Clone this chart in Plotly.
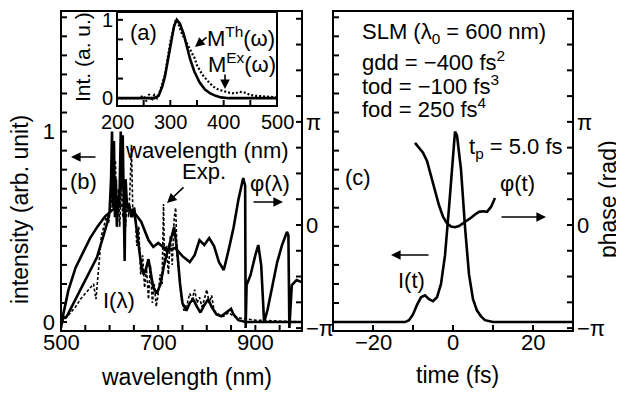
import math
import plotly.graph_objects as go

# The page has the browser's default 8px body margin, so the figure is drawn 8px in.
OFF = 8
W, H = 624 - OFF, 393 - OFF
FONT = "Liberation Sans, Arial, Helvetica, sans-serif"
PI = math.pi

# ---------------- panel (b): spectra and spectral phase ----------------
lam_th = [500, 505, 512, 520, 533, 545, 553, 565, 574, 587, 595, 600, 603, 605, 607, 609,
          611, 613, 615, 618, 620, 623, 625, 627, 629, 631, 633, 636, 640, 645, 650, 655,
          660, 665, 670, 675, 680, 685, 690, 697, 705, 712, 720, 727, 733, 740, 745, 750,
          758, 765, 772, 780, 787, 795, 803, 810, 820, 830, 840, 850, 855, 865, 880, 1000]
int_th = [0.0, 0.02, 0.03, 0.07, 0.13, 0.19, 0.23, 0.29, 0.34, 0.45, 0.52, 0.58, 0.75, 1.0, 0.6, 0.95,
          0.55, 0.75, 0.5, 0.65, 0.6, 1.0, 0.7, 0.98, 0.45, 0.32, 0.75, 0.6, 0.62, 0.55, 0.6, 0.5,
          0.4, 0.3, 0.25, 0.28, 0.33, 0.25, 0.18, 0.15, 0.2, 0.3, 0.38, 0.45, 0.5, 0.35, 0.2, 0.1,
          0.06, 0.1, 0.12, 0.08, 0.05, 0.09, 0.12, 0.08, 0.04, 0.03, 0.05, 0.07, 0.04, 0.01, 0.0, 0.0]

lam_ex = [500, 510, 520, 530, 540, 550, 560, 567, 572, 578, 583, 588, 593, 598, 603, 606,
          609, 612, 615, 618, 621, 624, 627, 630, 633, 636, 639, 642, 645, 648, 652, 656,
          660, 664, 668, 672, 676, 680, 684, 688, 692, 696, 700, 704, 708, 711, 713, 717,
          721, 725, 729, 733, 736, 739, 743, 748, 753, 760, 765, 770, 775, 780, 785, 790,
          795, 800, 805, 810, 815, 825, 835, 845, 855, 870, 900, 1000]
int_ex = [0.0, 0.02, 0.05, 0.08, 0.12, 0.15, 0.18, 0.2, 0.12, 0.3, 0.45, 0.5, 0.55, 0.52, 0.62, 0.8,
          0.6, 0.85, 0.55, 0.7, 0.5, 0.75, 0.55, 0.7, 0.5, 0.65, 0.55, 0.7, 0.93, 0.55, 0.6, 0.4,
          0.5, 0.25, 0.35, 0.18, 0.28, 0.12, 0.3, 0.1, 0.2, 0.08, 0.15, 0.25, 0.2, 0.62, 0.3, 0.4,
          0.25, 0.45, 0.3, 0.55, 0.6, 0.35, 0.25, 0.12, 0.06, 0.1, 0.15, 0.12, 0.17, 0.1, 0.13, 0.08,
          0.12, 0.17, 0.1, 0.14, 0.06, 0.04, 0.03, 0.05, 0.03, 0.02, 0.01, 0.0]

lam_ph = [500, 505, 515, 530, 545, 560, 575, 590, 605, 620, 635, 650, 665, 680, 690, 700,
          710, 720, 735, 750, 765, 775, 785, 795, 805, 815, 825, 835, 845, 855, 865, 875,
          879, 880, 882, 890, 900, 906, 912, 918, 925, 935, 945, 955, 965, 968, 970, 975,
          985, 995, 1000]
phase_lam = [-3.14, -2.7, -2.0, -1.3, -0.85, -0.4, -0.05, 0.25, 0.45, 0.6, 0.55, 0.4, 0.1, -0.46, -0.67, -0.55,
             -0.67, -0.76, -0.7, -0.95, -1.13, -0.92, -0.46, -0.61, -0.4, -0.64, -1.13, -1.37, -0.76, -0.09, 0.76, 1.43,
             1.2, -3.14, -1.83, -1.53, -0.92, -0.61, -1.22, -2.96, -2.59, -1.83, -1.13, -0.61, -0.21, -0.31, -3.14, -1.83,
             -1.68, -1.74, -1.68]

# ---------------- panel (c): temporal intensity and phase ----------------
t_int = [-30, -12, -11, -10, -9, -8, -7, -6, -5, -4, -3, -2, -1, 0, 0.5, 1, 2, 3, 4, 5, 6, 7, 8, 10, 30]
int_t = [0.0, 0.0, 0.01, 0.04, 0.09, 0.13, 0.14, 0.12, 0.11, 0.13, 0.2, 0.35, 0.6, 0.88, 1.0, 0.98,
         0.8, 0.5, 0.25, 0.12, 0.06, 0.03, 0.01, 0.0, 0.0]

t_ph = [-9.5, -8.5, -7.5, -6.5, -5.5, -4.5, -3.5, -2.5, -1.5, -0.5, 0.5, 1.5, 2.5, 3.5, 4.5, 5.5,
        6.5, 7.5, 8.5, 9.5, 10.5]
phase_t = [2.5, 2.35, 2.2, 1.95, 1.5, 1.05, 0.6, 0.25, 0.05, -0.05, -0.07, -0.03, 0.05, 0.12, 0.22, 0.32,
           0.4, 0.42, 0.4, 0.55, 0.82]

# ---------------- inset (a): SHG spectra ----------------
lam_mth = [200, 270, 278, 285, 290, 296, 302, 307, 312, 318, 325, 331, 337, 345, 355, 365, 375, 385, 395, 410, 500]
m_th = [0.0, 0.0, 0.03, 0.15, 0.28, 0.5, 0.75, 0.92, 1.0, 0.95, 0.82, 0.66, 0.5, 0.34, 0.2, 0.11, 0.06, 0.03, 0.01, 0.0, 0.0]

lam_mex = [200, 240, 250, 255, 260, 265, 270, 275, 280, 290, 300, 305, 310, 315, 320, 325, 330, 335, 340,
           345, 350, 360, 370, 380, 390, 400, 410, 420, 430, 440, 450, 460, 480, 500]
m_ex = [0.0, 0.0, 0.03, -0.04, 0.05, -0.03, 0.04, 0.0, 0.08, 0.3, 0.72, 0.88, 1.0, 0.95, 0.85, 0.78, 0.72, 0.65, 0.58,
        0.52, 0.42, 0.3, 0.22, 0.15, 0.11, 0.09, 0.07, 0.06, 0.08, 0.07, 0.04, 0.03, 0.02, 0.01]

# tick definitions
b_xticks = [500, 550, 600, 650, 700, 750, 800, 850, 900, 950, 1000]
b_xlabels = ["500", "", "", "", "700", "", "", "", "900", "", ""]
int_ticks = [round(0.1 * k, 1) for k in range(0, 17)]
int_labels = ["0"] + [" "] * 9 + ["1"] + [" "] * 6
ph_ticks = [k * PI / 4 for k in range(-4, 9)]
ph_labels = ["−π", " ", " ", " ", "0", " ", " ", " ", "π", " ", " ", " ", " "]
c_xticks = [-30, -20, -10, 0, 10, 20, 30]
c_xlabels = ["", "−20", "", "0", "", "20", ""]
in_xticks = [200, 250, 300, 350, 400, 450, 500]
in_xlabels = ["200", "", "300", "", "400", "", "500"]
in_yticks = [0, 0.25, 0.5, 0.75, 1.0]
in_ylabels = ["0", " ", " ", " ", "1"]


def dom_x(a, b):
    return [(a - OFF) / W, (b - OFF) / W]


def dom_y(top, bottom):
    return [1 - (bottom - OFF) / H, 1 - (top - OFF) / H]


LW = 2.6
fig = go.Figure()
fig.add_trace(go.Scatter(x=lam_th, y=int_th, mode="lines", line=dict(color="black", width=LW),
                         xaxis="x", yaxis="y"))
fig.add_trace(go.Scatter(x=lam_ex, y=int_ex, mode="lines",
                         line=dict(color="black", width=1.6, dash="3px,2px"), xaxis="x", yaxis="y"))
fig.add_trace(go.Scatter(x=lam_ph, y=phase_lam, mode="lines", line=dict(color="black", width=LW),
                         xaxis="x", yaxis="y2"))
fig.add_trace(go.Scatter(x=t_int, y=int_t, mode="lines", line=dict(color="black", width=LW),
                         xaxis="x2", yaxis="y3"))
fig.add_trace(go.Scatter(x=t_ph, y=phase_t, mode="lines", line=dict(color="black", width=LW),
                         xaxis="x2", yaxis="y4"))
fig.add_trace(go.Scatter(x=lam_mth, y=m_th, mode="lines", line=dict(color="black", width=LW),
                         xaxis="x3", yaxis="y5"))
fig.add_trace(go.Scatter(x=lam_mex, y=m_ex, mode="lines",
                         line=dict(color="black", width=2.2, dash="2px,2px"), xaxis="x3", yaxis="y5"))

common = dict(showline=False, ticks="", showgrid=False, zeroline=False, automargin=False,
              tickfont=dict(family=FONT, size=22, color="black"))
inset_font = dict(family=FONT, size=20, color="black")

b_xrange = [500, 996]
c_xrange = [-30, 30]
in_xrange = [200, 500]
in_yrange = [-0.10, 1.10]
yb_range = [-0.047, 1.633]
ph_range = [-3.23, 6.52]
top, bot = 11, 331
B = (61, 302)
C = (333, 573)
INS = (117, 277, 12, 106)

fig.update_layout(
    template="none",
    width=W, height=H, autosize=False,
    margin=dict(l=0, r=0, t=0, b=0, pad=0, autoexpand=False),
    paper_bgcolor="white", plot_bgcolor="rgba(0,0,0,0)",
    showlegend=False, hovermode=False,
    xaxis=dict(domain=dom_x(*B), range=b_xrange, anchor="y", showticklabels=False, **common),
    yaxis=dict(domain=dom_y(top, bot), range=yb_range, anchor="x",
               tickvals=int_ticks, ticktext=int_labels, ticklabelstandoff=5, **common),
    yaxis2=dict(range=ph_range, overlaying="y", side="right", anchor="x",
                tickvals=ph_ticks, ticktext=ph_labels, ticklabelstandoff=3, **common),
    xaxis2=dict(domain=dom_x(*C), range=c_xrange, anchor="y3", showticklabels=False, **common),
    yaxis3=dict(domain=dom_y(top, bot), range=yb_range, anchor="x2", showticklabels=False, **common),
    yaxis4=dict(range=ph_range, overlaying="y3", side="right", anchor="x2",
                tickvals=ph_ticks, ticktext=ph_labels, ticklabelstandoff=3, **common),
    xaxis3=dict(domain=dom_x(INS[0], INS[1]), range=in_xrange, anchor="y5", showticklabels=False,
                **common),
    yaxis5=dict(domain=dom_y(INS[2], INS[3]), range=in_yrange, anchor="x3",
                tickvals=in_yticks, ticktext=in_ylabels, ticklabelstandoff=3,
                **{**common, "tickfont": inset_font}),
)

TICK = dict(color="black", width=2)
TL = 6
shapes = []
# frames of the three plot boxes
for (x0, x1, y0, y1) in [(B[0], B[1], top, bot), (C[0], C[1], top, bot), INS]:
    dx, dy = dom_x(x0, x1), dom_y(y0, y1)
    shapes.append(dict(type="rect", xref="paper", yref="paper", x0=dx[0], x1=dx[1],
                       y0=dy[0], y1=dy[1], line=dict(color="black", width=2), layer="above"))


def xticks(xref, yref, vals, rng, h_px):
    for v in vals:
        if rng[0] < v < rng[1]:
            shapes.append(dict(type="line", xref=xref, yref=yref + " domain", x0=v, x1=v,
                               y0=0, y1=TL / h_px, line=TICK, layer="above"))


def yticks(xref, yref, vals, rng, w_px, right=False):
    for v in vals:
        if rng[0] < v < rng[1]:
            x0, x1 = (1, 1 - TL / w_px) if right else (0, TL / w_px)
            shapes.append(dict(type="line", xref=xref + " domain", yref=yref, x0=x0, x1=x1,
                               y0=v, y1=v, line=TICK, layer="above"))


ph_h = bot - top
xticks("x", "y", b_xticks, b_xrange, ph_h)
yticks("x", "y", int_ticks, yb_range, B[1] - B[0])
yticks("x", "y2", ph_ticks, ph_range, B[1] - B[0], right=True)
xticks("x2", "y3", c_xticks, c_xrange, ph_h)
yticks("x2", "y3", int_ticks, yb_range, C[1] - C[0])
yticks("x2", "y4", ph_ticks, ph_range, C[1] - C[0], right=True)
xticks("x3", "y5", in_xticks, in_xrange, INS[3] - INS[2])
yticks("x3", "y5", in_yticks, in_yrange, INS[1] - INS[0])
fig.update_layout(shapes=shapes)


def px(x, y):
    return (x - OFF) / W, 1 - (y - OFF) / H


def text(t, x, y, size=22, angle=0, xanchor="center"):
    xx, yy = px(x, y)
    return dict(text=t, x=xx, y=yy, xref="paper", yref="paper", showarrow=False,
                textangle=angle, xanchor=xanchor, yanchor="middle",
                font=dict(family=FONT, size=size, color="black"))


def arrow(hx, hy, tx, ty):
    xx, yy = px(hx, hy)
    return dict(text="", x=xx, y=yy, xref="paper", yref="paper", showarrow=True,
                ax=tx - hx, ay=ty - hy, axref="pixel", ayref="pixel",
                arrowhead=2, arrowsize=1.2, arrowwidth=1.6, arrowcolor="black")


def xlabels(xref, vals, labels, y, size=22):
    out = []
    for v, lab in zip(vals, labels):
        if lab:
            out.append(dict(text=lab, x=v, y=px(0, y)[1], xref=xref, yref="paper",
                            showarrow=False, xanchor="center", yanchor="middle",
                            font=dict(family=FONT, size=size, color="black")))
    return out


anns = [
    # axis titles
    text("intensity (arb. unit)", 20, 210, size=23, angle=-90),
    text("phase (rad)", 608, 199, size=23, angle=-90),
    text("wavelength (nm)", 186, 377, size=23),
    text("time (fs)", 457, 375, size=23),
    text("Int. (a. u.)", 83, 57, size=21, angle=-90),
    text("wavelength (nm)", 207, 150, size=22),
    # inset labels
    text("(a)", 143, 32),
    text("M<sup>Th</sup>(ω)", 241, 37),
    text("M<sup>Ex</sup>(ω)", 242, 63),
    arrow(195, 47, 208, 36),
    arrow(225, 89, 225, 73),
    # panel b labels
    text("(b)", 83, 182),
    arrow(71, 157, 97, 157),
    text("Exp.", 204, 172),
    arrow(167, 203, 185, 186),
    text("φ(λ)", 270, 183),
    arrow(283, 202, 252, 202),
    text("I(λ)", 119, 300),
    # panel c labels
    text("SLM (λ<sub>0</sub> = 600 nm)", 360, 33, xanchor="left"),
    text("gdd = −400 fs<sup>2</sup>", 360, 61, xanchor="left"),
    text("tod = −100 fs<sup>3</sup>", 360, 85, xanchor="left"),
    text("fod = 250 fs<sup>4</sup>", 360, 108, xanchor="left"),
    text("t<sub>p</sub> = 5.0 fs", 467, 148, xanchor="left"),
    text("(c)", 358, 177),
    text("φ(t)", 517, 183),
    arrow(546, 217, 500, 217),
    text("I(t)", 411, 280),
    arrow(391, 255, 430, 255),
]
anns += xlabels("x", b_xticks, b_xlabels, 342)
anns += xlabels("x2", c_xticks, c_xlabels, 342)
anns += xlabels("x3", in_xticks, in_xlabels, 122, size=20)
fig.update_layout(annotations=anns)

fig.write_html("out.html", config={"displayModeBar": False})
